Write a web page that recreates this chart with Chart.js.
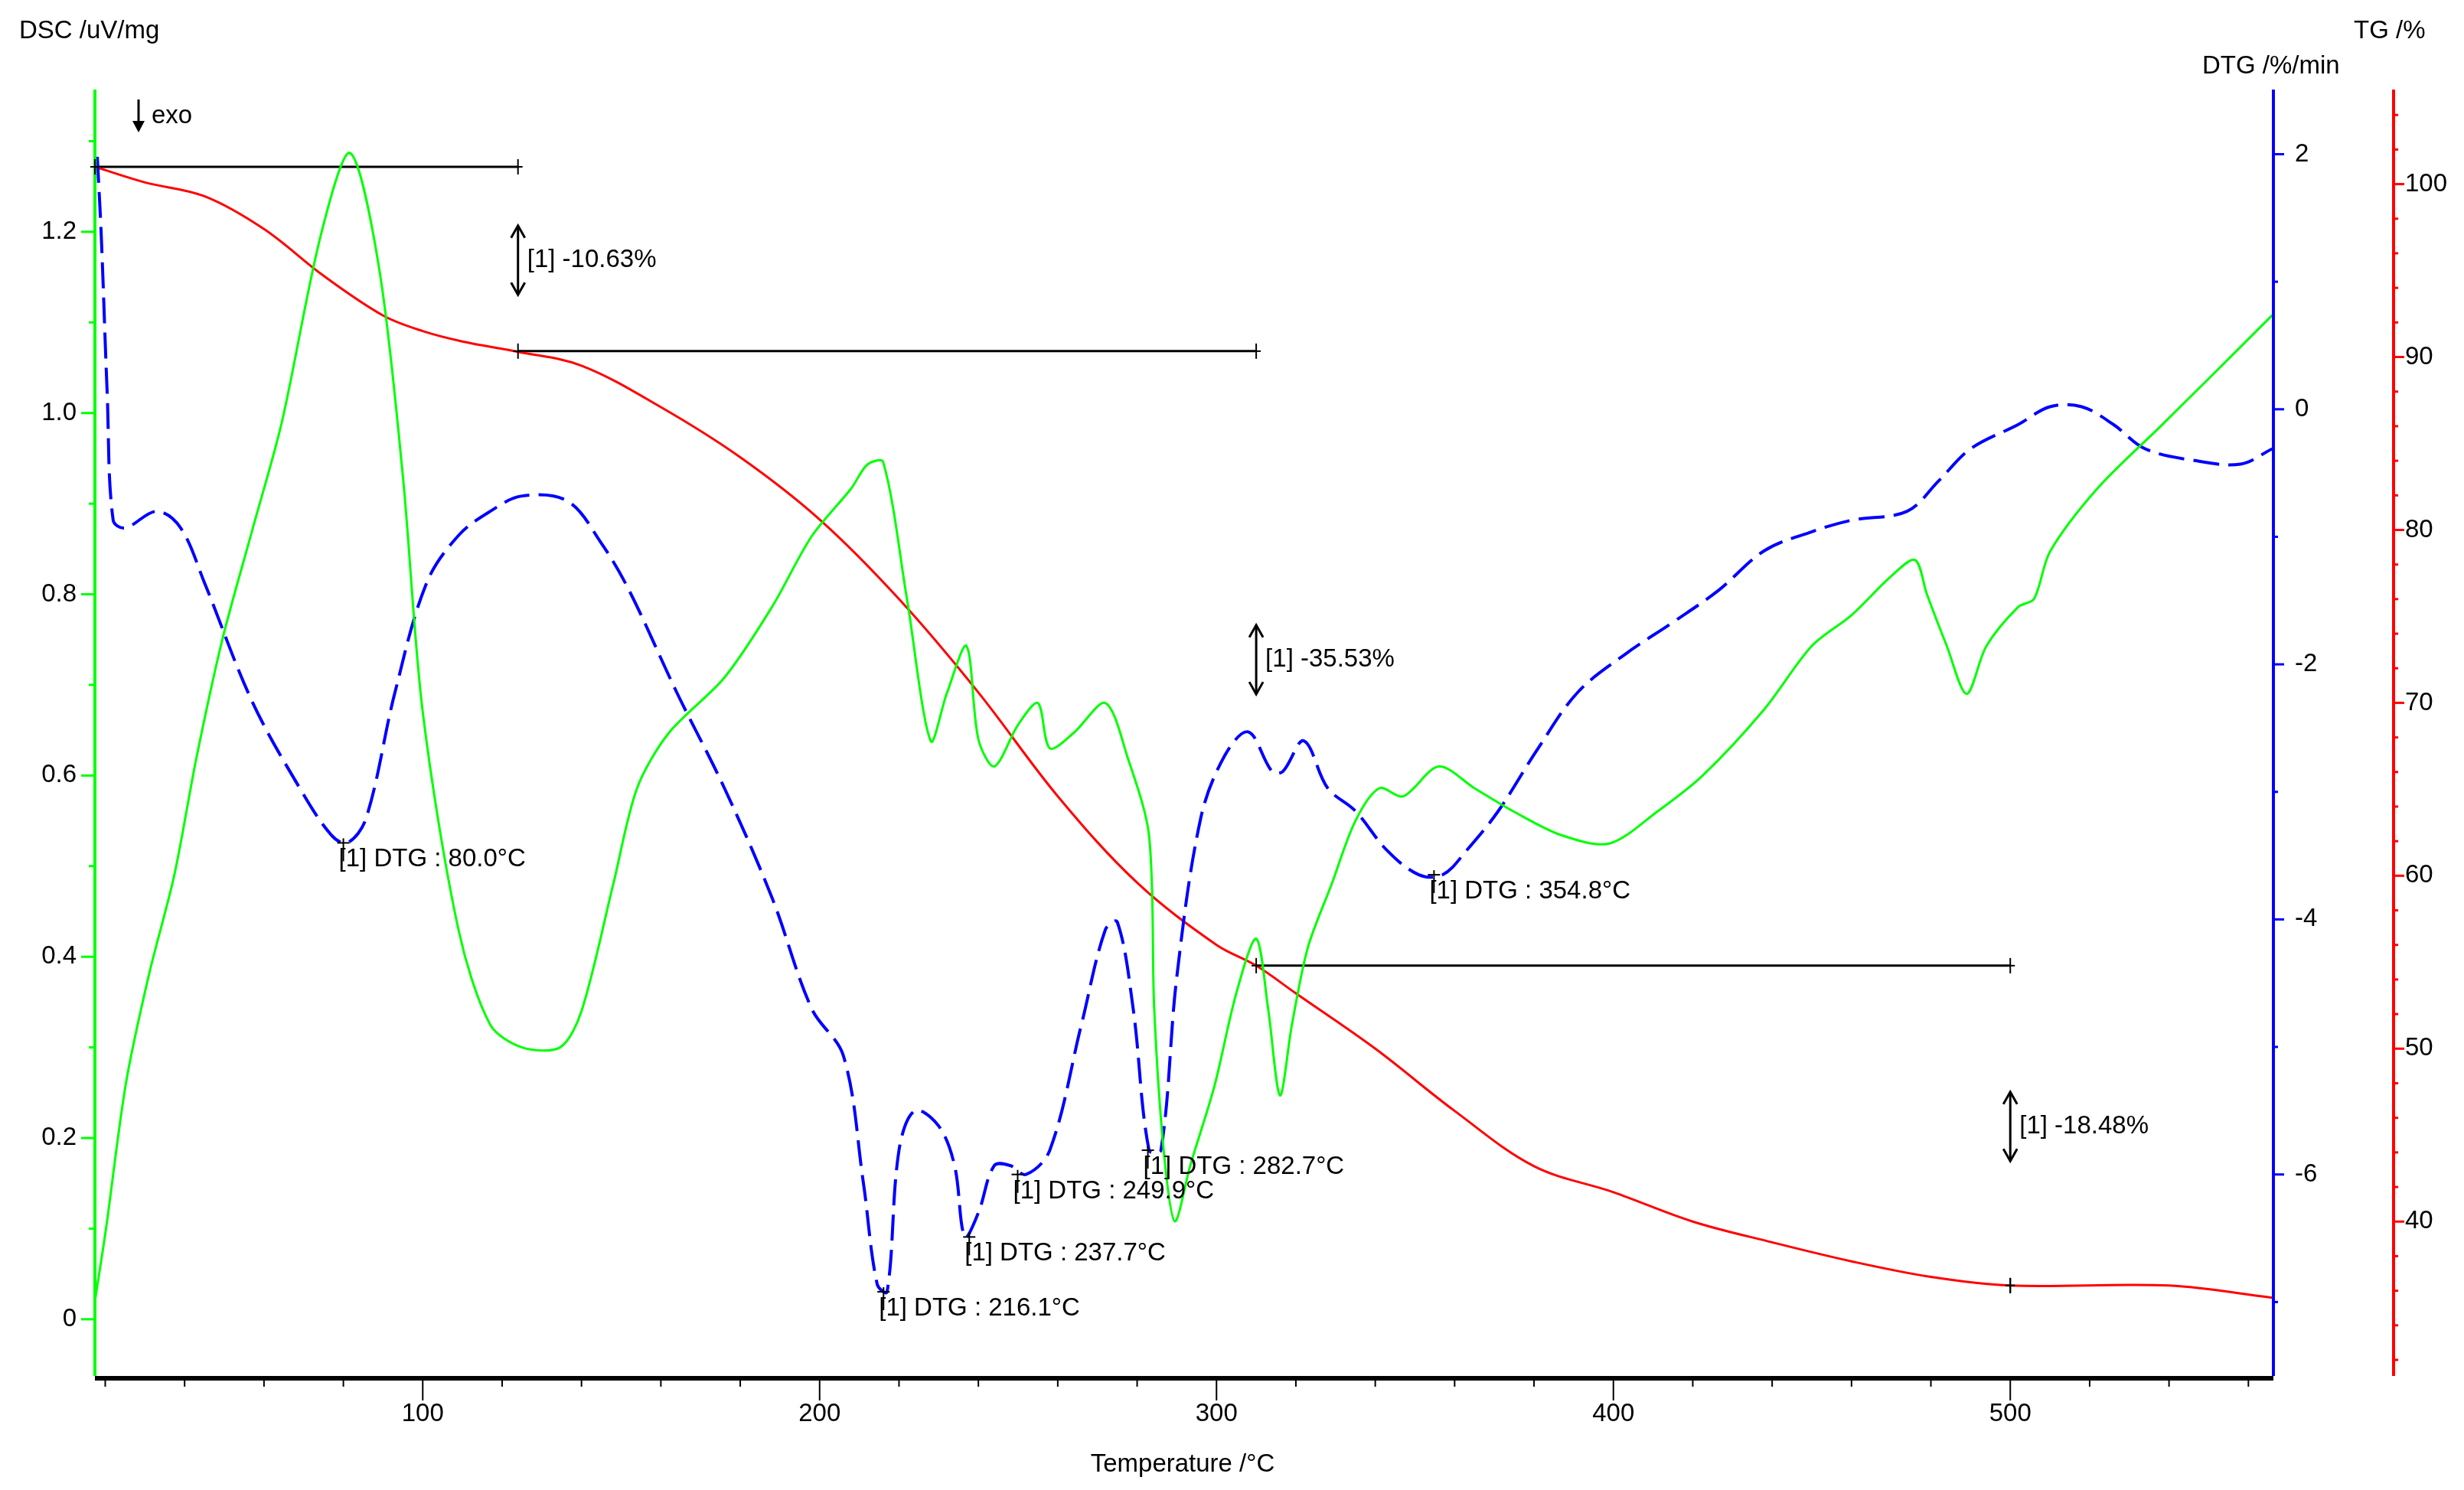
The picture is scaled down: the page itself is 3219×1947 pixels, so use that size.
<!DOCTYPE html>
<html><head><meta charset="utf-8">
<script src="https://cdn.jsdelivr.net/npm/chart.js@4/dist/chart.umd.min.js"></script>
<style>html,body{margin:0;padding:0;background:#fff}canvas{display:block}</style>
</head><body>
<div style="width:3219px;height:1947px"><canvas id="c" width="3219" height="1947"></canvas></div>
<script>
const dscT=[17.4,20.2,25.2,31,37.4,43,49.5,57,64.5,74.3,81.7,89,95,100,109,117,125,134.6,140,148,154,162,176,188,198,208,212,216,222,228,232,237,240,244,250,255,258,264,272,277.6,283,284.3,286.7,289.5,293.4,299.4,305,310,313,316,319,323,329,335,341,347,356,365,375,387,399,411,422.5,438,450,460,470,476,479,484,489,494,502,506,510,522,538,550,566];
const dscV=[0.02,0.10,0.26,0.38,0.49,0.62,0.75,0.87,0.99,1.196,1.287,1.16,0.93,0.67,0.43,0.325,0.30,0.30,0.34,0.48,0.586,0.647,0.708,0.786,0.864,0.917,0.943,0.946,0.795,0.638,0.69,0.743,0.64,0.61,0.656,0.68,0.63,0.647,0.68,0.62,0.534,0.343,0.186,0.108,0.17,0.256,0.36,0.42,0.343,0.247,0.325,0.41,0.48,0.55,0.586,0.577,0.61,0.586,0.56,0.534,0.525,0.56,0.60,0.673,0.743,0.777,0.82,0.838,0.80,0.743,0.69,0.743,0.786,0.795,0.847,0.917,0.986,1.038,1.108];
const dtgT=[18,19,20.5,22,25,33,39,45,57,69,77,81,85.7,93,101,109,117,125,136.5,145,152,164,176,188,198,206,211,214.5,217,220,224,230,234,236.6,240,244,248,252,258,266,272,275,279,283,286,290,296,302,308,314,316.7,322,328,335,343,351,357,363,371,381,391,403,415,426.5,438,450,460,474,482,490,502,510,518,526,534,546,558,566];
const dtgV=[1.98,1.36,0.12,-0.87,-0.93,-0.80,-0.93,-1.36,-2.29,-2.97,-3.34,-3.40,-3.21,-2.22,-1.36,-0.99,-0.80,-0.68,-0.72,-1.05,-1.42,-2.22,-2.97,-3.83,-4.70,-5.07,-6.06,-6.86,-6.92,-5.81,-5.50,-5.62,-5.93,-6.49,-6.30,-5.93,-5.93,-6.0,-5.81,-4.82,-4.08,-4.02,-4.70,-5.81,-5.81,-4.45,-3.21,-2.72,-2.53,-2.84,-2.84,-2.60,-2.97,-3.15,-3.46,-3.65,-3.65,-3.46,-3.15,-2.66,-2.22,-1.92,-1.67,-1.42,-1.11,-0.96,-0.87,-0.80,-0.56,-0.31,-0.12,0.02,0.02,-0.12,-0.31,-0.40,-0.43,-0.31];
const tgT=[17.4,30,45,60,75,90,100,110,124,140,160,180,200,220,240,260,280,300,310,320,340,360,380,400,420,440,460,480,500,540,566];
const tgV=[101.0,100.1,99.3,97.4,94.7,92.4,91.5,90.9,90.3,89.5,87.1,84.2,80.6,76.0,70.6,64.6,59.6,56.0,54.8,53.2,50.0,46.4,43.2,41.7,40.0,38.8,37.7,36.8,36.3,36.3,35.6];
const stepLines=[[17.4,124,101.0],[124,310,90.34],[310,500,54.8],[500,500,36.3]];
const steps=[{t:124,hi:97.6,lo:93.6,label:'[1] -10.63%'},{t:310,hi:74.5,lo:70.5,label:'[1] -35.53%'},{t:500,hi:47.5,lo:43.5,label:'[1] -18.48%'}];
const peaks=[{t:80.0,v:-3.40},{t:216.1,v:-6.92},{t:237.7,v:-6.49},{t:249.9,v:-6.0},{t:282.7,v:-5.81},{t:354.8,v:-3.65}];
const xTicks=[100,200,300,400,500];
const dscTicks=[0,0.2,0.4,0.6,0.8,1.0,1.2];
const dtgTicks=[2,0,-2,-4,-6];
const tgTicks=[100,90,80,70,60,50,40];

const F='"Liberation Sans", Arial, sans-serif';
const pts=(a,b)=>a.map((t,i)=>({x:t,y:b[i]}));
const datasets=[
 {data:pts(dscT,dscV),yAxisID:'yd',borderColor:'#00ff00',borderWidth:3,pointRadius:0,tension:0.3},
 {data:pts(dtgT,dtgV),yAxisID:'yg',borderColor:'#0000ff',borderWidth:4,borderDash:[34,12],pointRadius:0,tension:0.35},
 {data:pts(tgT,tgV),yAxisID:'yt',borderColor:'#ff0000',borderWidth:3,pointRadius:0,tension:0.35}
];
stepLines.forEach(s=>datasets.push({data:[{x:s[0],y:s[2]},{x:s[1],y:s[2]}],yAxisID:'yt',borderColor:'#000',borderWidth:3,pointRadius:0}));

const deco={id:'deco',afterDatasetsDraw(ch){
 const c=ch.ctx,a=ch.chartArea,X=ch.scales.x,D=ch.scales.yd,G=ch.scales.yg,T=ch.scales.yt;
 c.save();
 const line=(x1,y1,x2,y2,col,w)=>{c.strokeStyle=col;c.lineWidth=w;c.beginPath();c.moveTo(x1,y1);c.lineTo(x2,y2);c.stroke();};
 const txt=(s,x,y,al,bl)=>{c.fillStyle='#000';c.textAlign=al||'left';c.textBaseline=bl||'middle';c.fillText(s,x,y);};
 c.font='33px '+F;
 line(a.left,a.bottom+3,a.right,a.bottom+3,'#000',6);
 for(let t=20;t<=560;t+=20){const x=X.getPixelForValue(t);line(x,a.bottom+3,x,a.bottom+(t%100===0?32:14),'#000',2);}
 xTicks.forEach(t=>txt(String(t),X.getPixelForValue(t),1848,'center'));
 txt('Temperature /°C',1545,1914,'center');
 line(a.left,a.top,a.left,a.bottom,'#00ff00',4);
 for(let v=0;v<=1.3001;v+=0.1){const y=D.getPixelForValue(v);const maj=Math.round(v*10)%2===0;line(a.left-(maj?18:8),y,a.left,y,'#00ff00',3);}
 dscTicks.forEach(v=>txt(v===0?'0':v.toFixed(1),100,D.getPixelForValue(v),'right'));
 txt('DSC /uV/mg',25,41);
 const gx=2970;line(gx,a.top,gx,a.bottom,'#0000ff',4);
 for(let v=-7;v<=2;v++){const y=G.getPixelForValue(v);line(gx,y,gx+(v%2===0?14:6),y,'#0000ff',3);}
 dtgTicks.forEach(v=>txt(String(v),2998,G.getPixelForValue(v)));
 txt('DTG /%/min',2877,87);
 const tx=3127;line(tx,a.top,tx,a.bottom,'#ff0000',4);
 for(let v=32;v<=104;v+=2){const y=T.getPixelForValue(v);line(tx,y,tx+(v%10===0?14:6),y,'#ff0000',3);}
 tgTicks.forEach(v=>txt(String(v),3142,T.getPixelForValue(v)));
 txt('TG /%',3075,41);
 line(181,130,181,170,'#000',3);
 c.fillStyle='#000';c.beginPath();c.moveTo(173,158);c.lineTo(181,173);c.lineTo(189,158);c.closePath();c.fill();
 txt('exo',198,152);
 stepLines.forEach(s=>{[s[0],s[1]].forEach(t=>{const x=X.getPixelForValue(t),y=T.getPixelForValue(s[2]);line(x,y-10,x,y+10,'#000',2);line(x-6,y,x+6,y,'#000',2);});});
 steps.forEach(s=>{const x=X.getPixelForValue(s.t),y1=T.getPixelForValue(s.hi),y2=T.getPixelForValue(s.lo);
  line(x,y1,x,y2,'#000',3);
  c.beginPath();c.moveTo(x-9,y1+16);c.lineTo(x,y1);c.lineTo(x+9,y1+16);c.moveTo(x-9,y2-16);c.lineTo(x,y2);c.lineTo(x+9,y2-16);c.stroke();
  txt(s.label,x+12,(y1+y2)/2);});
 peaks.forEach(p=>{const x=X.getPixelForValue(p.t),y=G.getPixelForValue(p.v);line(x,y-6,x,y+24,'#000',2);line(x-8,y,x+8,y,'#000',2);
  txt('[1] DTG : '+p.t.toFixed(1)+'°C',x-6,y+22);});
 c.restore();
}};

new Chart(document.getElementById('c'),{type:'line',data:{datasets},
 options:{responsive:false,devicePixelRatio:1,animation:false,
  layout:{padding:{left:124,right:249,top:117,bottom:149}},
  plugins:{legend:{display:false},tooltip:{enabled:false}},
  scales:{
   x:{type:'linear',min:17.4,max:566.3,display:false},
   yd:{type:'linear',min:-0.0626,max:1.357,display:false},
   yg:{type:'linear',min:-7.58,max:2.507,display:false},
   yt:{type:'linear',min:31.07,max:105.47,display:false}
  }},
 plugins:[deco]});
</script></body></html>
